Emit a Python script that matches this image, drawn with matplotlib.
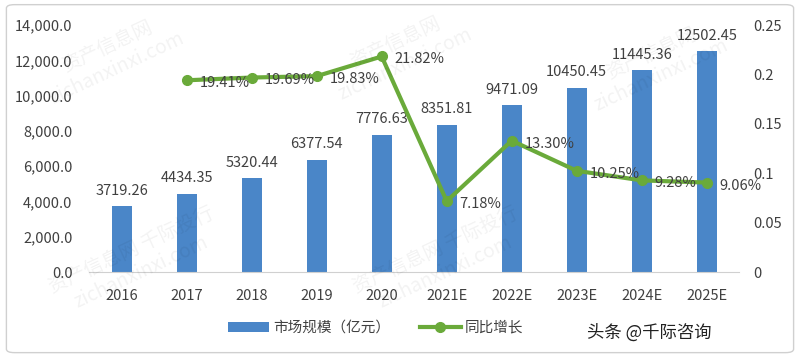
import matplotlib.pyplot as plt
from matplotlib.patches import FancyBboxPatch
from matplotlib.ticker import FuncFormatter

plt.rcParams['font.family'] = ['Noto Sans CJK SC', 'DejaVu Sans']

years = ["2016", "2017", "2018", "2019", "2020", "2021E", "2022E", "2023E", "2024E", "2025E"]
market = [3719.26, 4434.35, 5320.44, 6377.54, 7776.63, 8351.81, 9471.09, 10450.45, 11445.36, 12502.45]
growth_years = years[1:]
growth = [0.1941, 0.1969, 0.1983, 0.2182, 0.0718, 0.1330, 0.1025, 0.0928, 0.0906]

BAR = "#4a86c8"; LINE = "#6aaa3a"; TXT = "#404040"

fig = plt.figure(figsize=(8, 3.58), dpi=100)
fig.patches.append(FancyBboxPatch((0.008, 0.015), 0.984, 0.972, boxstyle="round,pad=0,rounding_size=0.01",
                                  transform=fig.transFigure, fill=False, ec="#d0d0d0", lw=1))
ax = fig.add_axes([0.1115, 0.240, 0.8125, 0.690])
x = list(range(len(years)))
ax.bar(x, market, width=0.31, color=BAR, label="市场规模（亿元）", zorder=2)
for xi, v in zip(x, market):
    ax.text(xi, v + 480, f"{v:.2f}", ha="center", va="bottom", fontsize=10.5, color=TXT)
ax.set_ylim(0, 14000); ax.set_xlim(-0.5, len(years) - 0.5)
ax.set_yticks(range(0, 14001, 2000))
ax.yaxis.set_major_formatter(FuncFormatter(lambda v, p: f"{v:,.1f}"))
ax.set_xticks(x); ax.set_xticklabels(years)
for s in ["top", "right", "left"]: ax.spines[s].set_visible(False)
ax.spines["bottom"].set_color("#d0d0d0")
ax.tick_params(axis="both", length=0, labelsize=10.5, labelcolor=TXT)
ax.tick_params(axis="x", pad=12)
ax.tick_params(axis="y", pad=12)

ax2 = ax.twinx()
gx = x[1:]
ax2.plot(gx, growth, color=LINE, lw=3, marker="o", ms=7, label="同比增长", zorder=3)
for xi, g in zip(gx, growth):
    ax2.text(xi + 0.2, g - 0.003, f"{g*100:.2f}%", ha="left", va="center", fontsize=10.5, color=TXT)
ax2.set_ylim(0, 0.25)
ax2.set_yticks([0, 0.05, 0.1, 0.15, 0.2, 0.25])
ax2.set_yticklabels(["0", "0.05", "0.1", "0.15", "0.2", "0.25"])
for s in ax2.spines.values(): s.set_visible(False)
ax2.tick_params(axis="y", length=0, labelsize=10.5, labelcolor=TXT, pad=10)

h1, l1 = ax.get_legend_handles_labels(); h2, l2 = ax2.get_legend_handles_labels()
fig.legend(h1 + h2, l1 + l2, loc="center", bbox_to_anchor=(0.47, 0.084), ncol=2, frameon=False,
           fontsize=10.5, handlelength=2.8, columnspacing=2.0, handletextpad=0.3, labelcolor=TXT)
fig.text(0.89, 0.07, "头条 @千际咨询", ha="right", va="center", fontsize=12.5, color="#222222")

# faint watermarks
for wx, wy, t in [(0.14, 0.84, "资产信息网\nzichanxinxi.com"), (0.5, 0.85, "资产信息网\nzichanxinxi.com"),
                  (0.82, 0.82, "资产信息网\nzichanxinxi.com"), (0.17, 0.27, "资产信息网 千际投行\nzichanxinxi.com"),
                  (0.55, 0.27, "资产信息网 千际投行\nzichanxinxi.com")]:
    fig.text(wx, wy, t, fontsize=14, color="#000000", alpha=0.05,
             rotation=25, ha="center", va="center")

fig.savefig("out.png", dpi=100)
